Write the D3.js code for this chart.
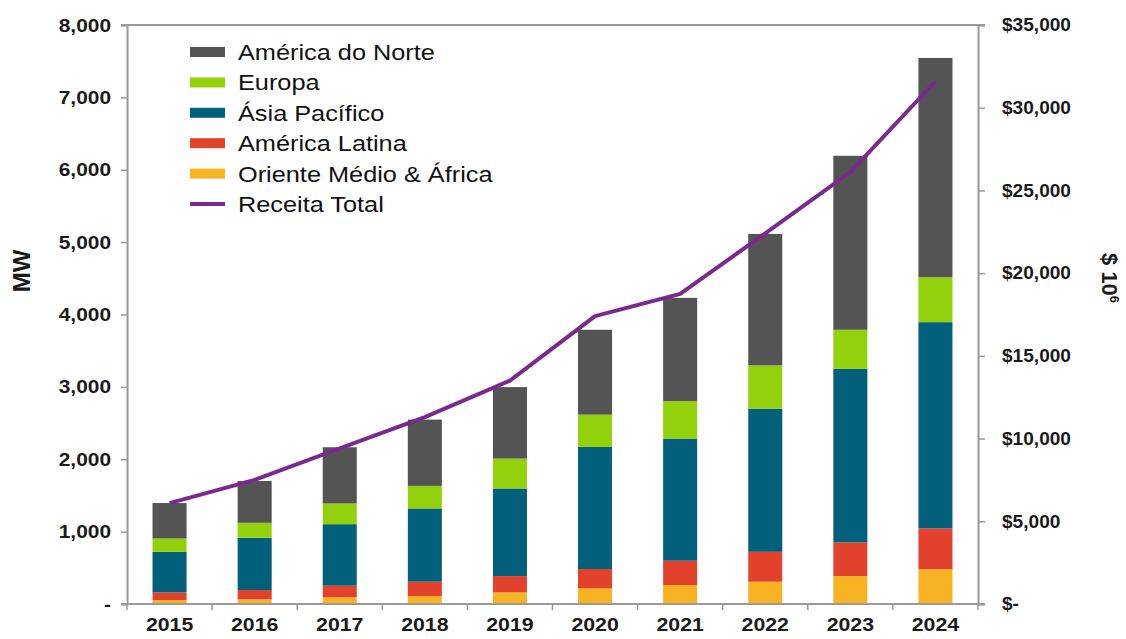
<!DOCTYPE html>
<html><head><meta charset="utf-8">
<script src="https://cdn.jsdelivr.net/npm/d3@7"></script>
<style>
body{margin:0;background:#fff;}
text{font-family:"Liberation Sans",Arial,sans-serif;}
</style></head>
<body><svg id="c" width="1126" height="639"></svg>
<script>
const years = ["2015","2016","2017","2018","2019","2020","2021","2022","2023","2024"];
const seriesNames = ["Oriente Médio & África","América Latina","Ásia Pacífico","Europa","América do Norte"];
const orienteMedioAfrica = [55, 65, 92, 110, 161, 216, 262, 308, 386, 479];
const americaLatina     = [105, 128, 161, 198, 225, 267, 336, 413, 465, 565];
const asiaPacifico      = [560, 722, 850, 1012, 1210, 1687, 1687, 1978, 2400, 2850];
const europa            = [185, 207, 286, 312, 413, 446, 519, 598, 538, 621];
const americaNorte      = [490, 578, 777, 916, 988, 1173, 1426, 1816, 2404, 3030];
const receitaTotal      = [6100, 7500, 9400, 11300, 13500, 17400, 18750, 22400, 26100, 31600];
const leftTicks = [0,1000,2000,3000,4000,5000,6000,7000,8000];
const rightTicks = [0,5000,10000,15000,20000,25000,30000,35000];
const legendNames = ["América do Norte","Europa","Ásia Pacífico","América Latina","Oriente Médio & África","Receita Total"];

const colors = {
  "Oriente Médio & África":"#f8b322",
  "América Latina":"#e2412c",
  "Ásia Pacífico":"#02607a",
  "Europa":"#92d10b",
  "América do Norte":"#545454",
  "Receita Total":"#7a2a8e"
};

const svg = d3.select("#c");
const L = 127, R = 978, T = 25, B = 604;
const x = d3.scaleBand().domain(years).range([L, R]).paddingInner(0.6).paddingOuter(0.3);
const y = d3.scaleLinear().domain([0, 8000]).range([B, T]);
const y2 = d3.scaleLinear().domain([0, 35000]).range([B, T]);

function stretch(sel, f) {
  sel.each(function() {
    const w = this.getComputedTextLength();
    d3.select(this).attr("textLength", w * f).attr("lengthAdjust", "spacingAndGlyphs");
  });
}

const rows = years.map((yr, i) => ({
  year: yr,
  "Oriente Médio & África": orienteMedioAfrica[i],
  "América Latina": americaLatina[i],
  "Ásia Pacífico": asiaPacifico[i],
  "Europa": europa[i],
  "América do Norte": americaNorte[i]
}));
const stack = d3.stack().keys(seriesNames)(rows);

// bars
svg.append("g").selectAll("g").data(stack).join("g")
  .attr("fill", d => colors[d.key])
  .selectAll("rect").data(d => d).join("rect")
  .attr("x", d => x(d.data.year))
  .attr("width", x.bandwidth())
  .attr("y", d => y(d[1]))
  .attr("height", d => y(d[0]) - y(d[1]));

// frame
const frameColor = "#9a9a9a";
svg.append("line").attr("x1", L-6).attr("x2", R+7).attr("y1", T).attr("y2", T).attr("stroke", frameColor).attr("stroke-width", 2);

// left axis
const gl = svg.append("g").attr("transform", `translate(${L},0)`)
  .call(d3.axisLeft(y).tickValues(leftTicks).tickSize(6).tickPadding(10)
    .tickFormat(d => d === 0 ? "-" : d3.format(",")(d)));
// right axis
const gr = svg.append("g").attr("transform", `translate(${R},0)`)
  .call(d3.axisRight(y2).tickValues(rightTicks).tickSize(7).tickPadding(17)
    .tickFormat(d => d === 0 ? "$-" : "$" + d3.format(",")(d)));
// bottom axis
const gb = svg.append("g").attr("transform", `translate(0,${B})`)
  .call(d3.axisBottom(x).tickSize(0).tickPadding(14));
// boundary ticks on x axis
const bounds = d3.range(0, years.length + 1).map(i => L + i * (R - L) / years.length);
svg.append("g").selectAll("line").data(bounds).join("line")
  .attr("x1", d => d).attr("x2", d => d).attr("y1", B).attr("y2", B + 6)
  .attr("stroke", frameColor).attr("stroke-width", 1.5);

[gl, gr, gb].forEach(g => {
  g.select(".domain").attr("stroke", frameColor).attr("stroke-width", 2);
  g.selectAll(".tick line").attr("stroke", frameColor).attr("stroke-width", 1.5);
  g.selectAll("text").attr("font-weight", "bold").attr("fill", "#1a1a1a");
});
gb.select(".domain").attr("d", `M${L-6},0H${R+7}`);
gl.selectAll("text").attr("font-size", 19);
gr.selectAll("text").attr("font-size", 18);
gb.selectAll("text").attr("font-size", 19);
stretch(gl.selectAll("text"), 1.1);
stretch(gr.selectAll("text"), 1.06);
stretch(gb.selectAll("text"), 1.12);

// line
svg.append("path")
  .datum(receitaTotal)
  .attr("fill", "none")
  .attr("stroke", colors["Receita Total"])
  .attr("stroke-width", 4)
  .attr("stroke-linejoin", "round")
  .attr("d", d3.line().x((d, i) => x(years[i]) + x.bandwidth()/2).y(d => y2(d)));

// axis titles
svg.append("text").attr("transform", "translate(30,271) rotate(-90)")
  .attr("text-anchor", "middle").attr("font-size", 24).attr("font-weight", "bold").attr("fill", "#1a1a1a").text("MW");
const t2 = svg.append("text").attr("transform", "translate(1102,278) rotate(90)")
  .attr("text-anchor", "middle").attr("font-size", 22).attr("font-weight", "bold").attr("fill", "#1a1a1a");
t2.append("tspan").text("$ 10");
t2.append("tspan").attr("dy", -8).attr("font-size", 13).text("6");

// legend
const lg = svg.append("g");
const ly = d3.scalePoint().domain(legendNames).range([52, 204]);
legendNames.forEach(n => {
  const isLine = n === "Receita Total";
  lg.append("rect").attr("x", 190).attr("width", 35)
    .attr("y", ly(n) - (isLine ? 2 : 5)).attr("height", isLine ? 4 : 10)
    .attr("fill", colors[n]);
  lg.append("text").attr("x", 238).attr("y", ly(n)).attr("dy", "0.36em")
    .attr("font-size", 22).attr("fill", "#111").text(n);
});
stretch(lg.selectAll("text"), 1.15);
</script></body></html>
